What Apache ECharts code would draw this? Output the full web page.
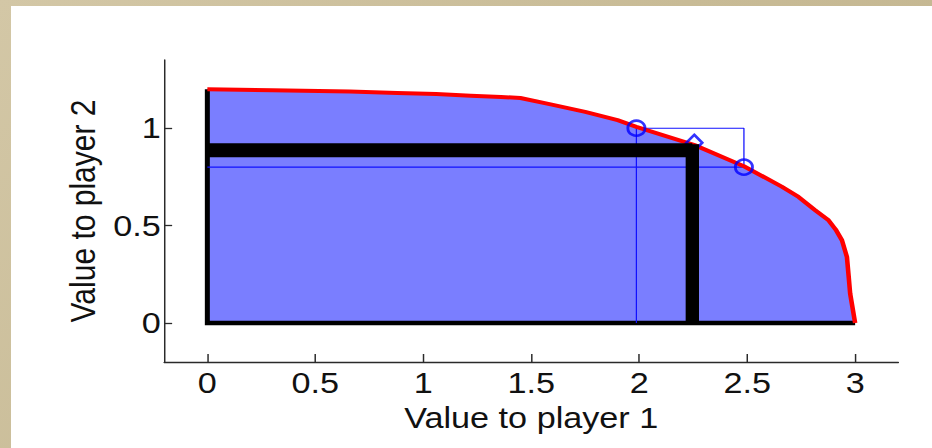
<!DOCTYPE html>
<html>
<head>
<meta charset="utf-8">
<script src="https://cdn.jsdelivr.net/npm/echarts@6/dist/echarts.min.js"></script>
<style>
  html, body { margin: 0; padding: 0; width: 932px; height: 448px; overflow: hidden; }
  body { background: linear-gradient(135deg, #d3c7a6 0%, #c8bb96 50%, #c1b38d 100%); position: relative; }
  #panel { position: absolute; left: 11px; top: 6px; right: 0; bottom: 0; background: #ffffff; }
  /* the figure is drawn on a narrower canvas and widened horizontally */
  #chart { position: absolute; left: 0; top: 0; width: 818px; height: 448px;
           transform: scaleX(1.14); transform-origin: 0 0; }
</style>
</head>
<body>
<div id="panel"></div>
<div id="chart"></div>
<script>
// Pareto frontier of achievable values (player 1, player 2)
const frontier = [
  [0, 1.2], [0.3, 1.195], [0.66, 1.188], [0.88, 1.181], [1.06, 1.175],
  [1.22, 1.167], [1.36, 1.16], [1.45, 1.155], [1.59, 1.122], [1.75, 1.084],
  [1.9, 1.041], [1.987, 1.007], [2.257, 0.913], [2.485, 0.805], [2.66, 0.70],
  [2.738, 0.647], [2.815, 0.579], [2.877, 0.527], [2.91, 0.48], [2.939, 0.425],
  [2.962, 0.339], [2.97, 0.24], [2.977, 0.151], [3.0, 0.0]
];
// outline of the feasible region along the axes
const regionEdge = [[0, 1.2], [0, 0], [3, 0]];
// guaranteed (threat) point, shown as thick black bars
const threatPoint = [2.246, 0.887];
// thin guide box between the two candidate outcomes
const guidePath = [[0, 0.8], [2.485, 0.8], [2.485, 1.0], [1.987, 1.0], [1.987, 0]];
// candidate outcomes on the frontier
const outcomes = [[1.987, 1.0], [2.485, 0.8]];
// bargaining solution marker
const solution = [[2.255, 0.925]];

const xTicks = [0, 0.5, 1, 1.5, 2, 2.5, 3];
const yTicks = [0, 0.5, 1];
const xName = 'Value to player 1';
const yName = 'Value to player 2';

const font = "'Liberation Sans', Arial, Helvetica, sans-serif";
const axisColor = '#2a2a2a';

const chart = echarts.init(document.getElementById('chart'), null, { renderer: 'svg' });

const threatH = [[0, threatPoint[1]], [threatPoint[0], threatPoint[1]]];
const threatL = [[0, threatPoint[1]], [threatPoint[0], threatPoint[1]], [threatPoint[0], 0]];

chart.setOption({
  animation: false,
  backgroundColor: 'transparent',
  grid: { left: 144, right: 30, top: 60, bottom: 86, containLabel: false },
  xAxis: {
    type: 'value', min: -0.2, max: 3.2,
    name: xName, nameLocation: 'middle', nameGap: 35,
    nameTextStyle: { fontFamily: font, fontSize: 30, color: '#111' },
    axisLine: { show: true, onZero: false, lineStyle: { color: axisColor, width: 1.3 } },
    axisTick: { show: true, inside: true, length: 8, customValues: xTicks,
                lineStyle: { color: axisColor, width: 1.3 } },
    axisLabel: { customValues: xTicks, margin: 6, fontFamily: font, fontSize: 30, color: '#111',
                 formatter: v => String(v) },
    splitLine: { show: false }
  },
  yAxis: {
    type: 'value', min: -0.2, max: 1.35,
    name: yName, nameLocation: 'middle', nameGap: 52, nameRotate: 90,
    nameTextStyle: { fontFamily: font, fontSize: 30, color: '#111' },
    axisLine: { show: true, onZero: false, lineStyle: { color: axisColor, width: 1.3 } },
    axisTick: { show: true, inside: true, length: 7, customValues: yTicks,
                lineStyle: { color: axisColor, width: 1.3 } },
    axisLabel: { customValues: yTicks, margin: 3, fontFamily: font, fontSize: 30, color: '#111',
                 formatter: v => String(v) },
    splitLine: { show: false }
  },
  series: [
    { // feasible region
      type: 'line', data: frontier, showSymbol: false, silent: true, z: 1,
      lineStyle: { width: 0 },
      areaStyle: { color: '#7a7eff', opacity: 1 }
    },
    { // region outline on the axes
      type: 'line', data: regionEdge, showSymbol: false, silent: true, z: 2,
      lineStyle: { color: '#000', width: 4.4, join: 'miter' }
    },
    { // guide box
      type: 'line', data: guidePath, showSymbol: false, silent: true, z: 3,
      lineStyle: { color: '#1010ff', width: 1.1 }
    },
    { // frontier
      type: 'line', data: frontier, showSymbol: false, silent: true, z: 4,
      lineStyle: { color: '#ff0000', width: 4, join: 'round' }
    },
    { // solution marker
      type: 'scatter', data: solution, silent: true, z: 5,
      symbol: 'diamond', symbolSize: [14, 16],
      itemStyle: { color: 'rgba(0,0,0,0)', borderColor: '#0000ff', borderWidth: 2.5 }
    },
    { // threat point bars
      type: 'line', data: threatL, showSymbol: false, silent: true, z: 6,
      lineStyle: { color: '#000', width: 11.7, join: 'miter', cap: 'butt' }
    },
    {
      type: 'line', data: threatH, showSymbol: false, silent: true, z: 6,
      lineStyle: { color: '#000', width: 14, cap: 'butt' }
    },
    { // candidate outcomes
      type: 'scatter', data: outcomes, silent: true, z: 7,
      symbol: 'circle', symbolSize: 15,
      itemStyle: { color: 'rgba(0,0,0,0)', borderColor: '#0000ff', borderWidth: 2.5 }
    }
  ]
});
</script>
</body>
</html>
